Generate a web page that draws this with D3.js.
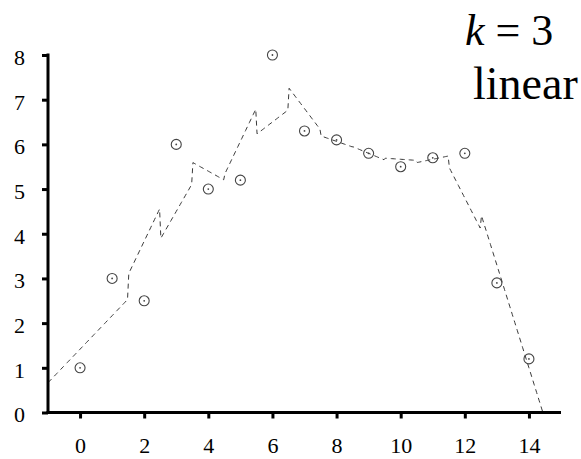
<!DOCTYPE html>
<html>
<head>
<meta charset="utf-8">
<script src="https://cdn.jsdelivr.net/npm/d3@7"></script>
<style>
  html, body { margin: 0; padding: 0; background: #fff; }
  #chart text { font-family: "Liberation Serif", "Tinos", "Times New Roman", serif !important; }
</style>
</head>
<body>
<svg id="chart" width="581" height="459"></svg>
<script>
// Observations
const xs = [0, 1, 2, 3, 4, 5, 6, 7, 8, 9, 10, 11, 12, 13, 14];
const ys = [1, 3, 2.5, 6, 5, 5.2, 8, 6.3, 6.1, 5.8, 5.5, 5.7, 5.8, 2.9, 1.2];
const xTicks = [0, 2, 4, 6, 8, 10, 12, 14];
const yTicks = [0, 1, 2, 3, 4, 5, 6, 7, 8];
const K = 3;

const SERIF = "Liberation Serif";
const svg = d3.select("#chart");
const x = d3.scaleLinear().domain([-1, 15]).range([48, 561]);
const y = d3.scaleLinear().domain([0, 8]).range([412.5, 55]);

// k-nearest-neighbour local linear fit evaluated at x0
function knnLinear(x0) {
  const idx = d3.range(xs.length)
    .sort((a, b) => (Math.abs(xs[a] - x0) - Math.abs(xs[b] - x0)) || (a - b))
    .slice(0, K);
  const mx = d3.mean(idx, i => xs[i]);
  const my = d3.mean(idx, i => ys[i]);
  const sxy = d3.sum(idx, i => (xs[i] - mx) * (ys[i] - my));
  const sxx = d3.sum(idx, i => (xs[i] - mx) ** 2);
  return my + (sxy / sxx) * (x0 - mx);
}

const grid = d3.range(0, 401).map(i => -1 + i * 16 / 400);
const fit = grid.map(g => [g, knnLinear(g)]);

svg.append("clipPath").attr("id", "plot-clip")
  .append("rect")
  .attr("x", x(-1)).attr("y", y(8))
  .attr("width", x(15) - x(-1)).attr("height", y(0) - y(8));

// fitted curve
svg.append("path")
  .datum(fit)
  .attr("clip-path", "url(#plot-clip)")
  .attr("fill", "none")
  .attr("stroke", "#3a3a3a")
  .attr("stroke-width", 1)
  .attr("stroke-dasharray", "5,4")
  .attr("d", d3.line().x(d => x(d[0])).y(d => y(d[1])));

// data markers: open circle with centre dot
const pts = svg.append("g").selectAll("g")
  .data(xs.map((v, i) => [v, ys[i]]))
  .join("g")
  .attr("transform", d => `translate(${x(d[0])},${y(d[1])})`);
pts.append("circle").attr("r", 5)
  .attr("fill", "none").attr("stroke", "#444").attr("stroke-width", 1.1);
pts.append("circle").attr("r", 0.9).attr("fill", "#444");

// axes
const xAxis = svg.append("g")
  .attr("transform", `translate(0,${y(0)})`)
  .call(d3.axisBottom(x).tickValues(xTicks).tickSize(6).tickPadding(19).tickSizeOuter(0));
const yAxis = svg.append("g")
  .attr("transform", `translate(${x(-1)},0)`)
  .call(d3.axisLeft(y).tickValues(yTicks).tickSize(6).tickPadding(17).tickSizeOuter(0));

[xAxis, yAxis].forEach(a => {
  a.attr("font-family", SERIF).attr("font-size", 22);
  a.select(".domain").attr("stroke", "#000").attr("stroke-width", 3);
  a.selectAll(".tick line").attr("stroke", "#000").attr("stroke-width", 3);
  a.selectAll(".tick text")
    .attr("fill", "#000")
    .attr("font-family", SERIF)
    .attr("font-size", 22);
});
yAxis.selectAll(".tick text").attr("dy", "0.43em");
xAxis.select(".domain").attr("d", `M${x(-1) - 1.5},0H${x(15)}`);
yAxis.select(".domain").attr("d", `M0,${y(0)}V${y(8) - 1.5}`);

// annotation
const t1 = svg.append("text")
  .attr("x", 465).attr("y", 45)
  .attr("font-family", SERIF)
  .attr("font-size", 44).attr("fill", "#000");
t1.append("tspan").attr("font-style", "italic").text("k");
t1.append("tspan").text(" = 3");
svg.append("text")
  .attr("x", 473).attr("y", 99)
  .attr("font-family", SERIF)
  .attr("font-size", 46).attr("fill", "#000")
  .text("linear");
</script>
</body>
</html>
